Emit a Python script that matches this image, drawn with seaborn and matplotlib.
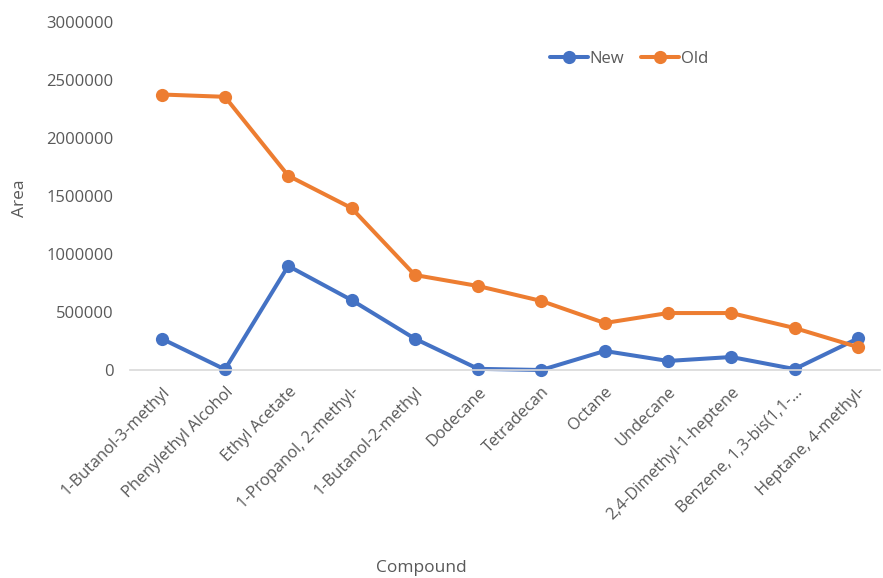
import matplotlib
matplotlib.use("Agg")
import matplotlib.pyplot as plt
import seaborn as sns
import pandas as pd

compounds = [
    "1-Butanol-3-methyl", "Phenylethyl Alcohol", "Ethyl Acetate",
    "1-Propanol, 2-methyl-", "1-Butanol-2-methyl", "Dodecane", "Tetradecan",
    "Octane", "Undecane", "2,4-Dimethyl-1-heptene", "Benzene, 1,3-bis(1,1-…",
    "Heptane, 4-methyl-",
]
new_area = [270000, 5000, 897000, 603000, 270000, 10000, 0,
            164000, 78000, 112000, 8000, 272000]
old_area = [2375000, 2355000, 1675000, 1396000, 819000, 724000, 595000,
            405000, 491000, 491000, 362000, 198000]
yticks = [0, 500000, 1000000, 1500000, 2000000, 2500000, 3000000]

df = pd.DataFrame({
    "pos": list(range(len(compounds))) * 2,
    "Area": new_area + old_area,
    "Series": ["New"] * len(compounds) + ["Old"] * len(compounds),
})

sns.set_theme(style="white")
plt.rcParams["font.family"] = ["Open Sans", "DejaVu Sans"]
text_col = "#595959"

fig = plt.figure(figsize=(8.83, 5.78), dpi=100)
ax = fig.add_axes([130 / 883, 1 - 370 / 578, 750 / 883, 348 / 578])

sns.lineplot(data=df, x="pos", y="Area", hue="Series",
             palette={"New": "#4472C4", "Old": "#ED7D31"},
             marker="o", markersize=9.5, markeredgewidth=0,
             linewidth=2.9, ax=ax, legend=True)
for ln in ax.lines:
    ln.set_clip_on(False)

ax.set_xlim(-0.5, 11.35)
ax.set_ylim(0, 3000000)
ax.set_yticks(yticks)
ax.set_yticklabels([str(v) for v in yticks], fontsize=12, color=text_col)
ax.set_xticks(range(len(compounds)))
ax.set_xticklabels(compounds, rotation=45, ha="right", rotation_mode="anchor",
                   fontsize=11.8, color=text_col)
ax.tick_params(axis="both", length=0)
ax.tick_params(axis="y", pad=12)
ax.tick_params(axis="x", pad=10)

for s in ["top", "right", "left"]:
    ax.spines[s].set_visible(False)
ax.spines["bottom"].set_color("#D9D9D9")
ax.spines["bottom"].set_linewidth(1.2)
ax.grid(False)

ax.set_ylabel("Area", fontsize=12.5, color=text_col, va="center")
ax.yaxis.set_label_coords(-(130 - 20) / 750, (370 - 198) / 348)
ax.set_xlabel("Compound", fontsize=12.5, color=text_col, va="center")
ax.xaxis.set_label_coords((421 - 130) / 750, -(568 - 370) / 348)

leg = ax.legend(loc="center", bbox_to_anchor=((629 - 130) / 750, (370 - 59) / 348),
                ncol=2, frameon=False, fontsize=12, handlelength=2.3,
                handletextpad=0.1, columnspacing=1.0)
for t in leg.get_texts():
    t.set_color(text_col)

fig.savefig("out.png", dpi=100)
